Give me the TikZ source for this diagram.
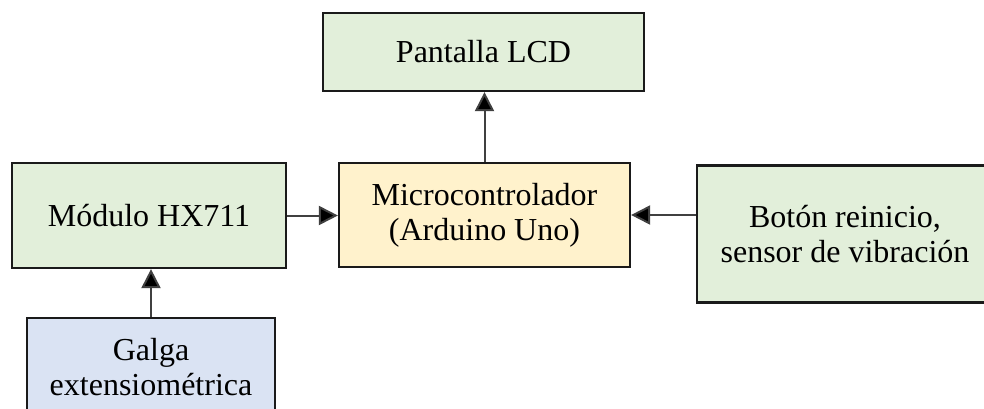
\documentclass[tikz,border=0pt]{standalone}
\usepackage{fontspec}
\setmainfont{Liberation Serif}
\usetikzlibrary{arrows.meta}
\definecolor{boxgreen}{HTML}{E2EFDA}
\definecolor{boxorange}{HTML}{FFF2CC}
\definecolor{boxblue}{HTML}{DAE3F3}
\definecolor{edgegray}{HTML}{404040}
\definecolor{bordergray}{HTML}{1A1A1A}
\begin{document}
\begin{tikzpicture}[x=1pt,y=-1pt,
  blockbox/.style={draw=bordergray, line width=2.2pt, align=center, inner sep=0pt,
    font=\fontsize{32}{35}\selectfont},
  conn/.style={draw=edgegray, line width=2pt, -{Triangle[length=19pt,width=19pt,fill=black]}}]
\useasboundingbox (0,0) rectangle (984,408);
\clip (0,0) rectangle (984,408);
\node[blockbox, fill=boxgreen, minimum width=321pt, minimum height=78pt] (lcd) at (483.5,52) {Pantalla LCD};
\node[blockbox, fill=boxorange, minimum width=291pt, minimum height=104pt] (micro) at (484.5,215) {Microcontrolador\\(Arduino Uno)};
\node[blockbox, fill=boxgreen, minimum width=274pt, minimum height=105pt] (hx) at (149,215.5) {Módulo HX711};
\node[blockbox, fill=boxgreen, minimum width=296pt, minimum height=137pt] (btn) at (845,234) {Botón reinicio,\\sensor de vibración};
\node[blockbox, fill=boxblue, minimum width=248pt, minimum height=98pt] (galga) at (151,367) {Galga\\extensiométrica};
\draw[conn] (micro.north) -- (micro.north |- lcd.south);
\draw[conn] (hx.east) -- (hx.east -| micro.west);
\draw[conn] (btn.west |- micro.east) -- (micro.east);
\draw[conn] (galga.north) -- (galga.north |- hx.south);
\end{tikzpicture}
\end{document}
